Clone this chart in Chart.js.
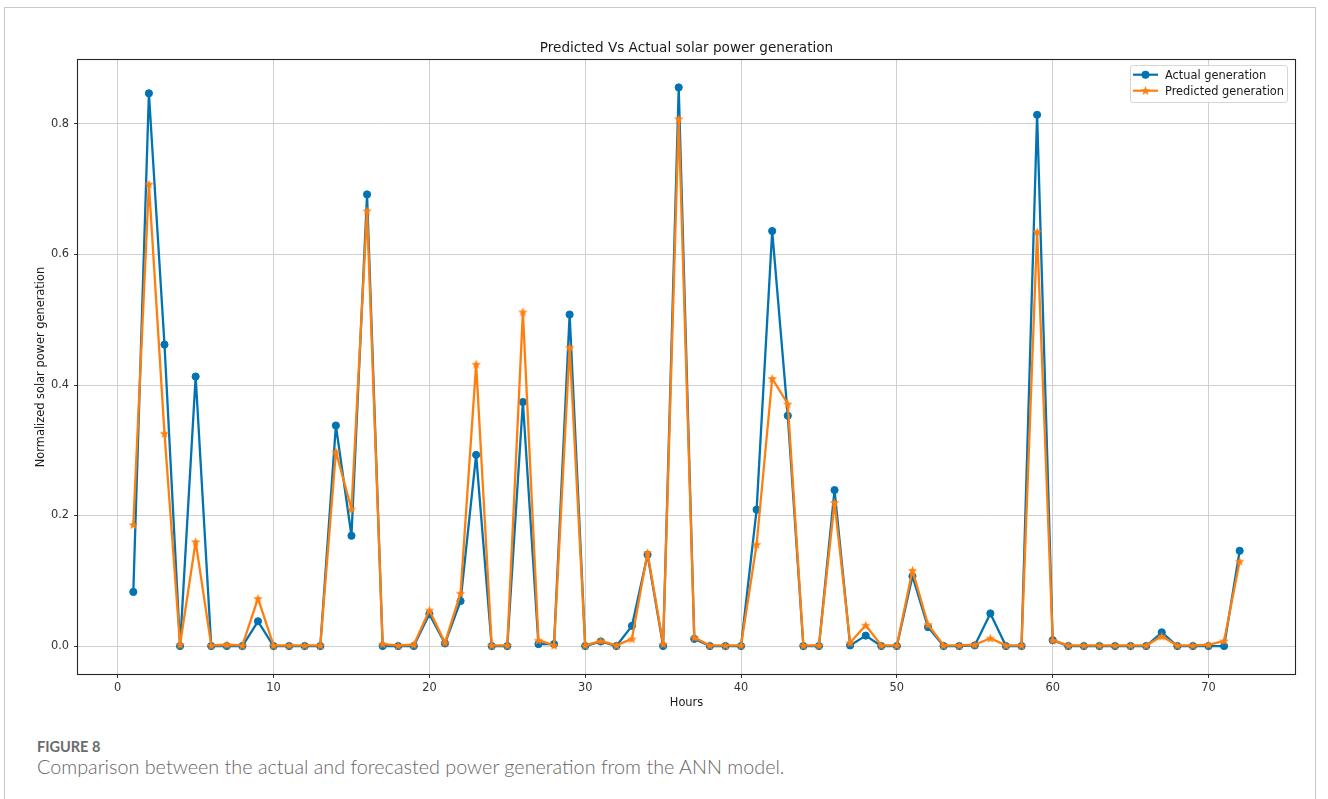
<!DOCTYPE html>
<html>
<head>
<meta charset="utf-8">
<script src="https://cdn.jsdelivr.net/npm/chart.js@4/dist/chart.umd.min.js"></script>
<style>
html,body{margin:0;padding:0;background:#fff;}
body{width:1328px;height:799px;position:relative;overflow:hidden;font-family:"DejaVu Sans",sans-serif;}
#frame{position:absolute;left:4px;top:7px;width:1312px;height:820px;border:1px solid #c8c8c8;box-sizing:border-box;}
#wrap{position:absolute;left:0;top:0;width:1328px;height:714px;}
#title{position:absolute;top:38.5px;left:78px;width:1217px;text-align:center;font-size:13.6px;line-height:16px;color:#1a1a1a;white-space:nowrap;}
#legend{position:absolute;left:1130px;top:65px;width:158px;height:38px;border:1px solid #d6d6d6;border-radius:3px;background:rgba(255,255,255,0.85);box-sizing:border-box;}
.lt{position:absolute;left:1165px;font-size:11.4px;line-height:14px;color:#1a1a1a;white-space:nowrap;}
#legsym{position:absolute;left:1130px;top:65px;}
#fig{position:absolute;left:37px;top:738px;font-family:Lato,"Open Sans",sans-serif;font-weight:bold;font-size:14.5px;line-height:17px;color:#6b6b6b;white-space:nowrap;}
#cap{position:absolute;left:37px;top:754px;font-family:Lato,"Open Sans",sans-serif;font-weight:300;font-size:19.8px;line-height:24px;color:#666;white-space:nowrap;}
</style>
</head>
<body>
<div id="frame"></div>
<div id="wrap"><canvas id="c" width="1328" height="714"></canvas></div>
<div id="title">Predicted Vs Actual solar power generation</div>
<div id="legend"></div>
<svg id="legsym" width="40" height="40" xmlns="http://www.w3.org/2000/svg">
  <line x1="3" y1="9.7" x2="28" y2="9.7" stroke="#0173b2" stroke-width="2.2"/>
  <circle cx="15.5" cy="9.7" r="4" fill="#0173b2"/>
  <line x1="3" y1="25.7" x2="28" y2="25.7" stroke="#ff7f0e" stroke-width="2.2"/>
  <polygon id="legstar" fill="#ff7f0e" points=""/>
</svg>
<div class="lt" style="top:67.7px">Actual generation</div>
<div class="lt" style="top:83.7px">Predicted generation</div>
<div id="fig">FIGURE 8</div>
<div id="cap">Comparison between the actual and forecasted power generation from the ANN model.</div>
<script>
// ---- data ----
const hours = [1,2,3,4,5,6,7,8,9,10,11,12,13,14,15,16,17,18,19,20,21,22,23,24,25,26,27,28,29,30,31,32,33,34,35,36,37,38,39,40,41,42,43,44,45,46,47,48,49,50,51,52,53,54,55,56,57,58,59,60,61,62,63,64,65,66,67,68,69,70,71,72];
const actualGeneration = [0.083,0.847,0.462,0,0.413,0,0,0,0.038,0,0,0,0,0.338,0.169,0.692,0,0,0,0.049,0.004,0.069,0.293,0,0,0.374,0.003,0.003,0.508,0,0.007,0,0.031,0.140,0,0.856,0.011,0,0,0,0.209,0.636,0.353,0,0,0.239,0.001,0.016,0,0,0.107,0.029,0,0,0.001,0.050,0,0,0.814,0.009,0,0,0,0,0,0,0.021,0,0,0,0,0.146];
const predictedGeneration = [0.186,0.708,0.326,0.002,0.160,0.001,0.002,0.001,0.073,0.001,0.001,0.001,0.001,0.298,0.210,0.667,0.003,0.001,0.002,0.055,0.005,0.081,0.432,0.001,0.001,0.512,0.009,0.001,0.458,0.001,0.008,0.001,0.011,0.143,0.003,0.808,0.013,0.001,0.001,0.001,0.156,0.410,0.371,0.001,0.001,0.220,0.005,0.032,0.001,0.001,0.116,0.033,0.001,0.001,0.002,0.012,0.001,0.001,0.635,0.009,0.001,0.001,0.001,0.001,0.001,0.001,0.015,0.001,0.001,0.002,0.008,0.130];
const xTickValues = [0,10,20,30,40,50,60,70];
const yTickValues = [0.0,0.2,0.4,0.6,0.8];

const BLUE = '#0173b2';
const ORANGE = '#ff7f0e';

function starPoints(cx, cy, R, r) {
  const pts = [];
  for (let i = 0; i < 10; i++) {
    const rad = (i % 2 === 0) ? R : r;
    const a = -Math.PI / 2 + i * Math.PI / 5;
    pts.push([cx + rad * Math.cos(a), cy + rad * Math.sin(a)]);
  }
  return pts;
}
// star marker image
const starCanvas = document.createElement('canvas');
starCanvas.width = 11; starCanvas.height = 11;
(function(){
  const g = starCanvas.getContext('2d');
  const p = starPoints(5.5, 6, 5, 2.1);
  g.fillStyle = ORANGE;
  g.beginPath();
  p.forEach((q,i)=> i ? g.lineTo(q[0],q[1]) : g.moveTo(q[0],q[1]));
  g.closePath(); g.fill();
})();
document.getElementById('legstar').setAttribute('points',
  starPoints(15.5, 26, 5, 2.1).map(q=>q.join(',')).join(' '));

const framePlugin = {
  id: 'frame',
  afterDatasetsDraw(chart) {
    const a = chart.chartArea, g = chart.ctx;
    g.save();
    g.strokeStyle = '#262626';
    g.lineWidth = 1.1;
    g.strokeRect(a.left - 0.5, a.top - 0.5, a.right - a.left + 1, a.bottom - a.top + 1);
    g.restore();
  }
};

const tickFont = {family: '"DejaVu Sans"', size: 11.4};

new Chart(document.getElementById('c'), {
  type: 'line',
  data: {
    datasets: [
      {
        label: 'Predicted generation',
        data: hours.map((h, i) => ({x: h, y: predictedGeneration[i]})),
        borderColor: ORANGE, backgroundColor: ORANGE,
        borderWidth: 2.3, borderJoinStyle: 'round', borderCapStyle: 'round',
        pointStyle: starCanvas, pointRadius: 4,
        tension: 0, fill: false, order: 0
      },
      {
        label: 'Actual generation',
        data: hours.map((h, i) => ({x: h, y: actualGeneration[i]})),
        borderColor: BLUE, backgroundColor: BLUE,
        pointBackgroundColor: BLUE, pointBorderColor: BLUE,
        borderWidth: 2.3, borderJoinStyle: 'round', borderCapStyle: 'round',
        pointStyle: 'circle', pointRadius: 3.6, pointBorderWidth: 1,
        tension: 0, fill: false, order: 1
      }
    ]
  },
  options: {
    responsive: false, animation: false, devicePixelRatio: 1,
    layout: {padding: {left: 30, top: 60, right: 33, bottom: 0}},
    plugins: {legend: {display: false}, title: {display: false}, tooltip: {enabled: false}},
    scales: {
      x: {
        type: 'linear', min: -2.55, max: 75.55,
        afterBuildTicks: s => { s.ticks = xTickValues.map(v => ({value: v})); },
        afterFit: s => { s.height = 40; },
        grid: {color: '#d0d0d0', lineWidth: 1, tickLength: 4, tickColor: '#333', drawTicks: true},
        border: {display: false},
        ticks: {font: tickFont, color: '#333', padding: 3, maxRotation: 0, autoSkip: false, callback: v => String(v)},
        title: {display: true, text: 'Hours', font: tickFont, color: '#1a1a1a', padding: {top: 0, bottom: 4}}
      },
      y: {
        type: 'linear', min: -0.0428, max: 0.898,
        afterBuildTicks: s => { s.ticks = yTickValues.map(v => ({value: v})); },
        afterFit: s => { s.width = 48; },
        grid: {color: '#d0d0d0', lineWidth: 1, tickLength: 4, tickColor: '#333', drawTicks: true},
        border: {display: false},
        ticks: {font: tickFont, color: '#333', padding: 5, autoSkip: false, callback: v => Number(v).toFixed(1)},
        title: {display: true, text: 'Normalized solar power generation', font: tickFont, color: '#1a1a1a', padding: {top: 4, bottom: 0}}
      }
    }
  },
  plugins: [framePlugin]
});
</script>
</body>
</html>
